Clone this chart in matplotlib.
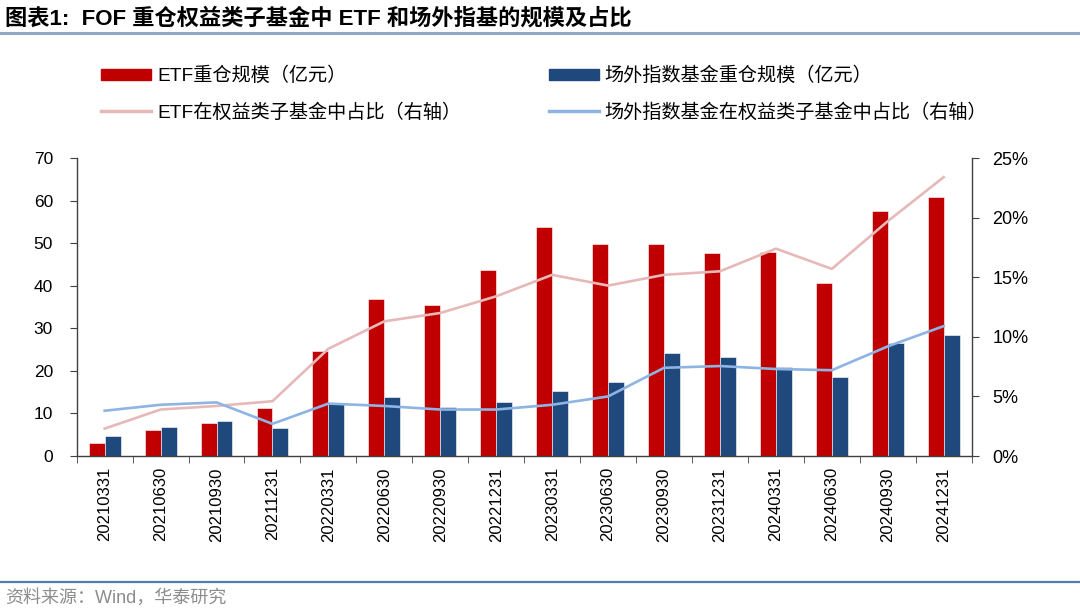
import matplotlib.pyplot as plt
import numpy as np
from matplotlib.lines import Line2D
from matplotlib.patches import Patch
from matplotlib.ticker import FuncFormatter, FixedLocator

plt.rcParams['font.family'] = ['Liberation Sans', 'Noto Sans CJK SC', 'DejaVu Sans']

dates = ["20210331", "20210630", "20210930", "20211231",
         "20220331", "20220630", "20220930", "20221231",
         "20230331", "20230630", "20230930", "20231231",
         "20240331", "20240630", "20240930", "20241231"]
etf_aum = [3.0, 6.1, 7.8, 11.3, 24.7, 36.9, 35.5, 43.7,
           53.8, 49.7, 49.9, 47.8, 48.0, 40.6, 57.6, 60.9]
otc_aum = [4.8, 6.9, 8.2, 6.7, 12.3, 13.9, 11.4, 12.8,
           15.3, 17.3, 24.3, 23.3, 20.8, 18.6, 26.5, 28.4]
etf_share = [2.3, 3.9, 4.2, 4.6, 9.0, 11.3, 12.0, 13.4,
             15.2, 14.3, 15.2, 15.5, 17.4, 15.7, 19.7, 23.4]
otc_share = [3.8, 4.3, 4.5, 2.7, 4.4, 4.2, 3.9, 3.9,
             4.3, 5.0, 7.4, 7.55, 7.3, 7.2, 9.2, 10.9]

RED = "#C00000"
NAVY = "#1F497D"
PINK = "#E6B9B8"
SKY = "#8DB4E2"
AX_COL = "#404040"

fig = plt.figure(figsize=(10.8, 6.15), dpi=100)
ax = fig.add_axes([0.071, 0.2585, 0.8287, 0.4845])

x = np.arange(len(dates))
w = 0.285
ax.bar(x - w / 2, etf_aum, w, color=RED, edgecolor="white", linewidth=0.4, zorder=2)
ax.bar(x + w / 2, otc_aum, w, color=NAVY, edgecolor="white", linewidth=0.4, zorder=2)
ax.set_xlim(-0.5, len(dates) - 0.5)
ax.set_ylim(0, 70)
ax.set_yticks(range(0, 71, 10))
ax.set_xticks(x)
ax.set_xticklabels(dates, rotation=90, fontsize=12)
ax.xaxis.set_minor_locator(FixedLocator(np.arange(-0.5, len(dates), 1)))
ax.tick_params(axis="x", which="major", length=0, pad=8)
ax.tick_params(axis="x", which="minor", length=5, direction="out", color=AX_COL)
ax.tick_params(axis="y", length=5, direction="out", color=AX_COL, labelsize=12.5, pad=12)

ax2 = ax.twinx()
ax2.plot(x, np.array(etf_share) / 100, color=PINK, lw=1.9)
ax2.plot(x, np.array(otc_share) / 100, color=SKY, lw=1.9)
ax2.set_ylim(0, 0.25)
ax2.set_yticks(np.arange(0, 0.251, 0.05))
ax2.yaxis.set_major_formatter(FuncFormatter(lambda v, _: f"{v * 100:.0f}%"))
ax2.tick_params(axis="y", length=5, direction="out", color=AX_COL, labelsize=13, pad=10)

for a in (ax, ax2):
    a.spines["top"].set_visible(False)
    for s in ("left", "right", "bottom"):
        a.spines[s].set_color(AX_COL)
        a.spines[s].set_linewidth(1.0)
ax.spines["right"].set_visible(False)
ax2.spines["left"].set_visible(False)
ax2.spines["bottom"].set_visible(False)

handles = [Patch(color=RED), Line2D([], [], color=PINK, lw=2.5),
           Patch(color=NAVY), Line2D([], [], color=SKY, lw=2.5)]
labels = ["ETF重仓规模（亿元）", "ETF在权益类子基金中占比（右轴）",
          "场外指数基金重仓规模（亿元）", "场外指数基金在权益类子基金中占比（右轴）"]
fig.legend(handles, labels, ncol=2, loc="upper left",
           bbox_to_anchor=(0.078, 0.92), frameon=False, fontsize=13.8,
           handlelength=2.6, handleheight=0.5, handletextpad=0.3,
           labelspacing=0.95, columnspacing=4.6)

fig.text(0.005, 0.97, "图表1:  FOF 重仓权益类子基金中 ETF 和场外指基的规模及占比",
         fontsize=16, fontweight="bold", va="center", ha="left")
fig.add_artist(Line2D([0, 1], [0.946, 0.946], color="#8EA9C8", lw=2.2))
fig.add_artist(Line2D([0, 1], [0.053, 0.053], color="#4F7DB5", lw=1.6))
fig.text(0.005, 0.027, "资料来源：Wind，华泰研究", fontsize=13,
         color="#8C8C8C", va="center", ha="left")

fig.savefig("out.png", dpi=100)
